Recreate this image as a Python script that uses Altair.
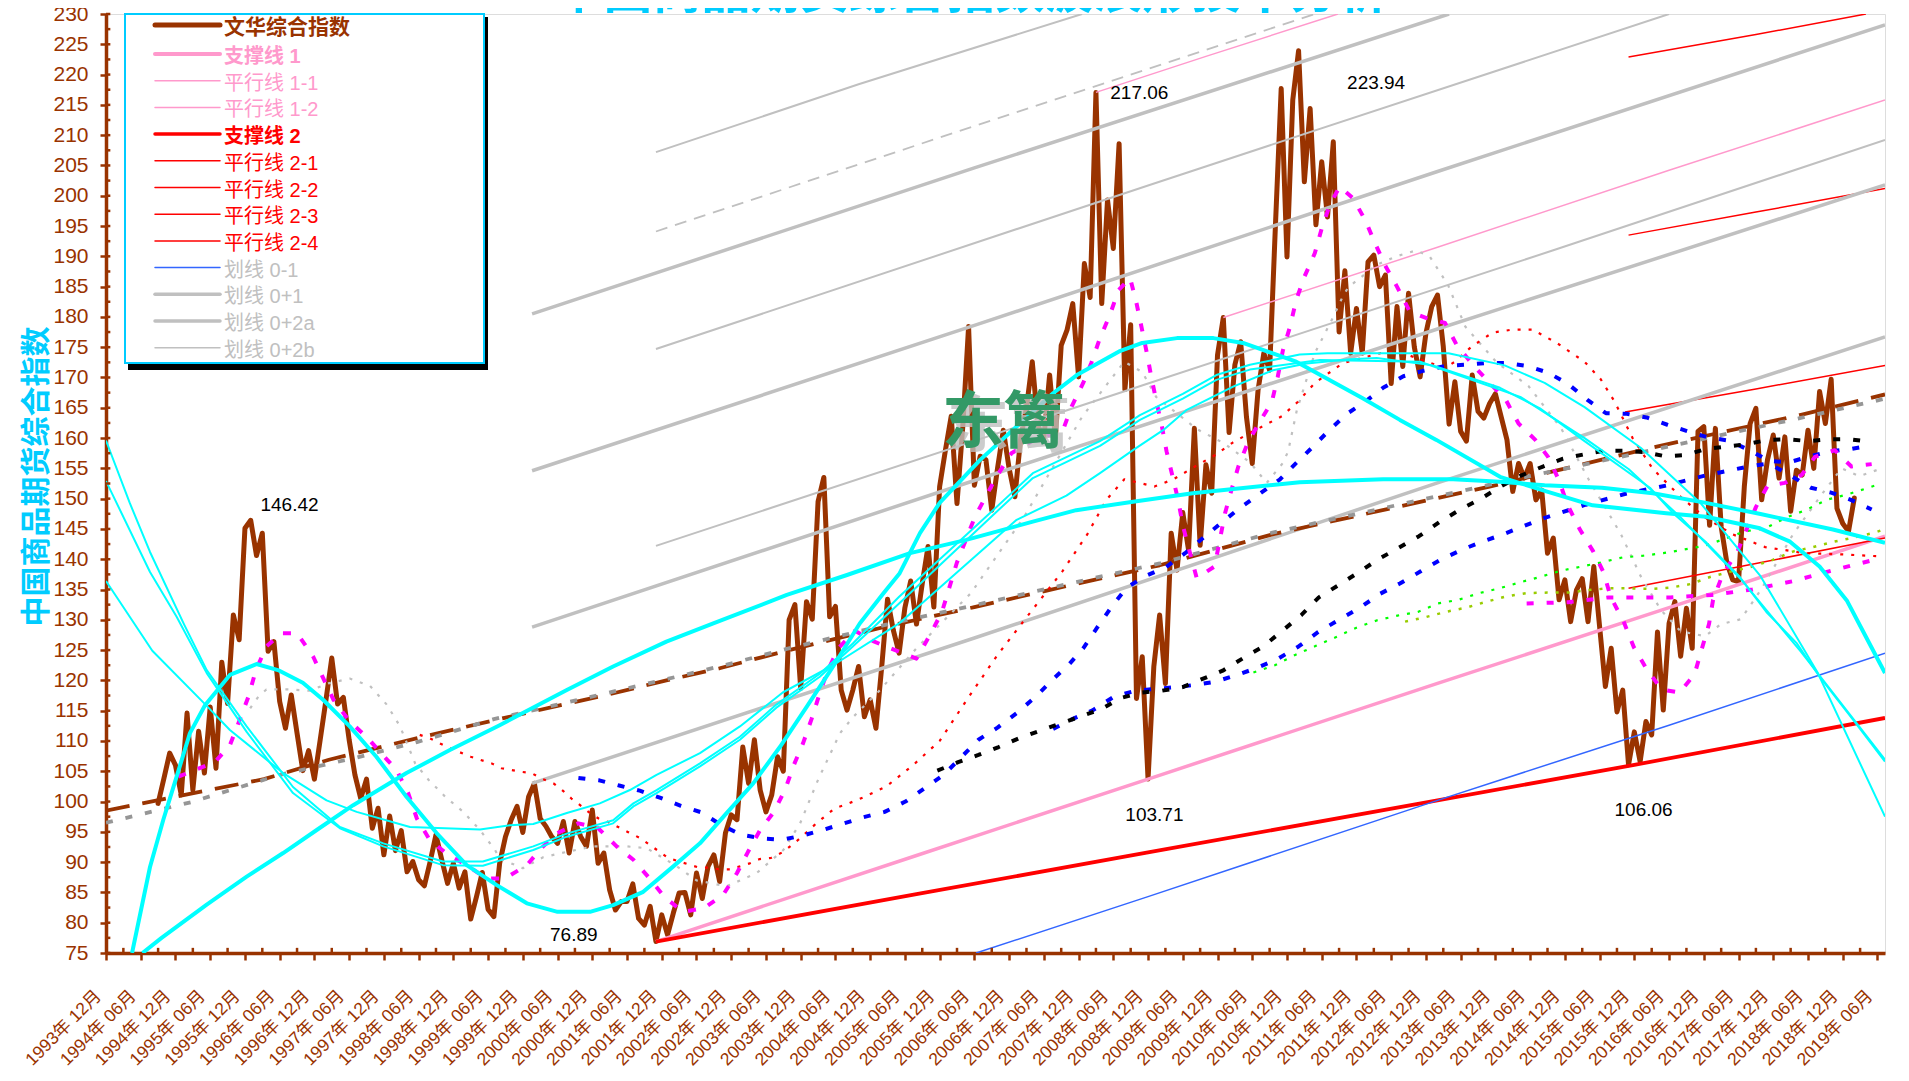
import json
import altair as alt
import pandas as pd

NARROW = "Liberation Sans Narrow, Liberation Sans, Noto Sans CJK SC"
CJK = "Noto Sans CJK SC"
BROWN = "#993300"

TITLE = "中国商品期货综合指数波浪形技术分析"
Y_TITLE = "中国商品期货综合指数"

TICK_LABELS = [
    "1993年 12月", "1994年 06月", "1994年 12月", "1995年 06月", "1995年 12月", "1996年 06月",
    "1996年 12月", "1997年 06月", "1997年 12月", "1998年 06月", "1998年 12月", "1999年 06月",
    "1999年 12月", "2000年 06月", "2000年 12月", "2001年 06月", "2001年 12月", "2002年 06月",
    "2002年 12月", "2003年 06月", "2003年 12月", "2004年 06月", "2004年 12月", "2005年 06月",
    "2005年 12月", "2006年 06月", "2006年 12月", "2007年 06月", "2007年 12月", "2008年 06月",
    "2008年 12月", "2009年 06月", "2009年 12月", "2010年 06月", "2010年 12月", "2011年 06月",
    "2011年 12月", "2012年 06月", "2012年 12月", "2013年 06月", "2013年 12月", "2014年 06月",
    "2014年 12月", "2015年 06月", "2015年 12月", "2016年 06月", "2016年 12月", "2017年 06月",
    "2017年 12月", "2018年 06月", "2018年 12月", "2019年 06月",
]
X_MAX = 307.3

# monthly index, first value is month 9 after 1993-12
MAIN_START = 9
MAIN = [
    99.7, 103.8, 108, 106, 101.1, 114.6, 101.9, 111.6, 104.7, 115.6, 105.5, 123, 116.2, 130.8, 126.7, 145.1,
    146.42, 140.6, 144.3, 124.8, 126.4, 116.5, 112.1, 117.6, 111.3, 105.1, 108.4, 103.7, 110.2, 116.8, 123.7,
    116.1, 117.2, 110.2, 104.4, 100.5, 103.7, 95.6, 98.9, 91.2, 97.6, 91.9, 95.2, 88.4, 90.1, 87.1, 86.1, 90.1,
    94.5, 90.4, 86.5, 89.8, 85.7, 88.4, 80.6, 84.3, 88.3, 82.2, 81, 89.8, 94.2, 97, 99.2, 94.9, 100.8, 103, 97.2,
    95.9, 94.2, 93.1, 96.7, 91.5, 96.7, 94.2, 92.6, 98.6, 89.8, 91.5, 85.4, 82.1, 83.5, 83.5, 86.4, 80.7, 79.6,
    82.7, 76.89, 81.3, 78, 81.6, 84.9, 85, 81.3, 88.2, 84, 89.3, 91.2, 86.8, 94.8, 97.8, 97, 109, 103, 110.2,
    101.9, 98.3, 101.1, 107.4, 105, 130, 132.5, 118.7, 133, 130.1, 149.5, 153.5, 130.5, 132.2, 118.4, 115.1,
    118.4, 122.3, 114, 116.8, 112.1, 122.3, 133.4, 128.3, 124.5, 132, 136.4, 129.3, 136, 142.1, 132.1, 152, 158,
    163.6, 149.2, 161.9, 178.4, 152.2, 157, 156.4, 148.1, 155, 161.3, 155, 150.3, 160, 165, 172.6, 162, 160,
    170.4, 160, 175.3, 177.8, 182.2, 170.1, 188.8, 183.2, 217.06, 182.2, 199.3, 191.3, 208.6, 168, 178.7, 117,
    123.9, 103.71, 122.3, 130.8, 119.5, 144.3, 138.2, 147.7, 141.5, 161.6, 142.3, 155.6, 150.9, 173.7, 179.9,
    160.9, 172.1, 175.9, 163.5, 155.8, 167.9, 174, 171.2, 195, 217.7, 189.9, 215.8, 223.94, 202.3, 214.4, 195.2,
    205.6, 196.5, 208.9, 177.5, 187.6, 174, 181.4, 174, 189.1, 190.2, 185, 186.9, 169, 181.7, 171.8, 183.9, 175,
    170.1, 177.3, 181.7, 183.6, 175.1, 162.3, 169.3, 161.1, 159.5, 170.4, 164.4, 163.3, 165.7, 167.3, 163.5,
    159.7, 151.2, 155.8, 153.4, 155.8, 149.8, 151.4, 141, 143.5, 133.3, 136.6, 129.7, 134.9, 136.8, 129.7, 138.8,
    128.9, 119, 125.3, 114.8, 118.4, 106.06, 111.5, 106.6, 113.2, 111, 128, 115.1, 129.4, 133, 124, 131.9, 125.3,
    161.1, 161.9, 145.6, 161.6, 145.4, 139.3, 136.6, 136.3, 152, 162.4, 164.9, 149.8, 156.4, 160.5, 153.4, 160.2,
    147.9, 154.7, 153.9, 161.3, 155, 167.7, 162.4, 169.7, 148.4, 145.9, 144.6, 150.1,
]

SUPPORT1 = [(95, 76.89), (140, 91.1), (180, 103.71), (230, 119.5), (270, 132), (307.3, 143.8)]
SUPPORT2 = [(95, 76.89), (140, 84.7), (180, 91.6), (230, 100.2), (264, 106.06), (307.3, 113.8)]
PAR11 = [(171, 217.06), (190, 223), (212.8, 230)]
PAR12 = [(193, 179.9), (230, 191.5), (270, 204.2), (307.3, 215.8)]
PAR21 = [(263, 222.9), (285, 226.6), (304, 230)]
PAR22 = [(263, 193.5), (285, 197.3), (307.3, 201.2)]
PAR23 = [(262.4, 164.3), (285, 168.1), (307.3, 172)]
PAR24 = [(263, 135.2), (285, 139.3), (307.3, 143.5)]
LINE01 = [(150.3, 75), (180, 84.3), (230, 100.2), (270, 112.6), (307.3, 124.5)]
GRAY_THICK_A = [(73.6, 180.5), (150, 204.6), (232, 230)]
GRAY_THICK_B = [(73.6, 154.6), (150, 178.6), (230, 204), (307.3, 228.2)]
GRAY_THICK_C = [(73.6, 128.8), (150, 153), (230, 178), (307.3, 201.8)]
GRAY_THICK_D = [(73.6, 103), (150, 127), (230, 152.6), (307.3, 176.7)]
GRAY_THIN_A = [(95, 207.2), (130, 218.4), (168.6, 230)]
GRAY_DASH = [(95, 194.1), (150, 211.5), (208.8, 230)]
GRAY_THIN_B = [(95, 174.7), (180, 201.7), (270, 230)]
GRAY_THIN_C = [(95, 142.2), (180, 169), (250, 191), (307.3, 209.2)]

TREND_BROWN = [(0, 98.5), (27.3, 103.7), (38.5, 106.9), (54.3, 110.6), (67, 113.4), (78, 115.8), (86.5, 117.6),
               (96.8, 120), (106, 122), (117.6, 124.9), (134.8, 128.9), (150, 132.1), (167, 135.8), (182, 139),
               (201.5, 144.1), (239, 152), (267, 158.4), (292.6, 163.8), (307.3, 167.2)]
TREND_GRAY = [(0, 96.5), (14.7, 99.9), (30, 104.4), (43, 107.2), (53.7, 109.8), (67, 113.6), (78, 116), (86.5, 117.9),
              (96.8, 120.2), (106, 122.3), (117.6, 125.2), (134.8, 129.2), (150, 132.4), (167, 136.1), (182, 139.3),
              (201.5, 144.4), (239, 152.3), (267, 158), (292.6, 163.3), (307.3, 166.5)]

MAG1 = [(12.5, 104.1), (18.8, 106.5), (21.4, 109.3), (23.1, 113.5), (24.6, 117.3), (25.9, 121.7), (27.7, 125.6),
        (30.3, 127.8), (33, 127.8), (35.8, 123.9), (37.5, 120.4), (39.3, 116.8), (42.1, 113.2), (45, 110.7),
        (47.3, 108.2), (50.2, 105.2), (52.2, 101.4), (53.7, 97.2), (55.9, 93.7), (59.1, 91.2), (62.3, 89.5),
        (65.7, 87.3), (68.9, 87.3), (72.7, 89.5), (75.2, 92.3), (78, 94.8), (81.6, 96.4), (85, 95.6), (88.2, 92.6),
        (91.1, 90.4), (94, 87.2), (96.5, 84.2), (99.7, 81.8), (103.3, 82.4), (106.6, 84.6), (109, 88.2),
        (110.9, 91.7), (113, 95.3), (115.4, 98.3), (117.4, 102.2), (118.8, 106), (120.4, 109.6), (121.9, 113.7),
        (123.2, 117.6), (124.6, 121.5), (126.5, 125.3), (129.4, 128.2), (132.2, 126.6), (135.5, 125.3),
        (140, 123.6), (142.4, 127.6), (144.4, 131.3), (147, 139.5), (150.1, 147), (153.8, 153.6), (156.4, 157.5),
        (160, 159.5), (165.3, 161.3), (166.8, 165.2), (168.8, 169.1), (170.2, 172.4), (171.7, 176.5), (173.4, 180.3),
        (174.9, 184.4), (176.9, 186.4), (178, 182.3), (178.9, 178.2), (179.8, 174), (180.6, 169.9), (181.5, 165.8),
        (182.4, 161.9), (183.2, 157.8), (184.3, 153.4), (185.2, 149.8), (186, 145.6), (187.2, 141.2), (188.4, 136.9),
        (191.5, 138.8), (192.4, 143.2), (193.3, 147.6), (194.4, 151.4), (195.6, 155.3), (197.3, 159.4), (199.5, 163),
        (201.4, 166), (202.4, 170.1), (203.3, 174.5), (204.5, 178.3), (205.6, 182.8), (207, 186.6), (208.8, 190.5),
        (210, 194.6), (211.4, 198.5), (213.1, 201.5), (215.4, 199.6), (217.5, 196), (219.2, 192.2), (220.9, 188.6),
        (223, 185), (225.2, 180.9), (228.1, 179.8), (231.3, 179), (233.3, 175.4), (236, 172.2), (239, 169.1),
        (241.8, 166.3), (244, 162.4), (246.9, 159.7), (249.1, 156.9), (250.9, 153.2), (252.5, 148.9), (254.6, 144.9),
        (256.9, 141.3), (258.7, 137.8), (259.9, 133.8), (262.2, 129.6), (263.9, 125.5), (266.1, 121.9), (268.7, 118.5),
        (271.8, 118), (274.4, 121), (275.6, 125), (276.9, 129.3), (277.6, 133.3), (279.3, 137.6), (281.7, 141),
        (285, 148.6), (287, 152.1), (290, 152.6), (292.9, 153.9), (295.2, 156.9), (298.6, 158), (301.5, 155.3),
        (305, 155.7)]
MAG2 = [(245.4, 132.7), (252.6, 132.9), (259.5, 133.7), (270.2, 133.7), (277.4, 134.1), (284.4, 135), (291.5, 136.4),
        (298.4, 138.2), (305.4, 139.9)]

GRAY_DOT = [(24.9, 115.4), (26.3, 117.3), (27.7, 118.5), (31.5, 118.5), (35.2, 118.3), (38.4, 119.5), (42.1, 120.3),
            (45.6, 119.1), (48.5, 116), (50.8, 112.4), (53.4, 106.3), (55.7, 103.6), (58.6, 100.8), (61.7, 98.3),
            (64.6, 95.3), (67.2, 92), (68, 90.6), (72, 89), (75.5, 90.8), (79.6, 91.7), (84.2, 92.6), (89.9, 92.6),
            (93.4, 92.3), (98.3, 89.5), (102, 87), (107.2, 86), (112.4, 88.2), (117, 92), (119.9, 96.4), (123, 103.6),
            (126.8, 111.3), (129.1, 114), (133.7, 118.4), (140, 125.3), (149.4, 134.4), (158.6, 147), (168.6, 163.5),
            (175.9, 172.6), (179, 170.9), (181.4, 166.8), (188.4, 161.5), (193, 159.2), (197.6, 156), (200.5, 152.6),
            (203.3, 155.9), (204.2, 157.8), (205.7, 164.6), (206.8, 167.9), (208.8, 174), (212, 180), (213.6, 183.3),
            (214.6, 184.9), (219.5, 188.6), (222.9, 190), (226.4, 191), (228.7, 189.9), (231.8, 185.3), (234.8, 178.4),
            (240.2, 172.5), (245.7, 168.6), (251.3, 161.7), (256.1, 153.2), (261.7, 144.1), (265.1, 137.2),
            (268.6, 131.6), (272, 128.1), (276.2, 127.3), (279, 129.3), (282.4, 130.1), (285.9, 135), (291.4, 144.1),
            (296.6, 151), (299.8, 155), (302.9, 153.7), (306.7, 155)]

RED_DOT = [(54.2, 111), (56, 110.4), (57.7, 109.6), (59.4, 108.8), (63, 107.4), (66.6, 106.3), (68.3, 105.5),
           (71.8, 104.9), (73.5, 104.7), (75.2, 103.8), (77.3, 103), (78.9, 101.8), (80.4, 100.5), (81.9, 99.4),
           (83.6, 98.1), (85.1, 97.2), (86.8, 96.6), (90.3, 94.9), (92.2, 94), (94, 92.8), (97.1, 90.7), (99, 90.1),
           (102.4, 89.1), (104.2, 89.1), (106, 88.8), (107.8, 88.8), (111.2, 89.8), (112.9, 90.5), (114.9, 90.7),
           (117, 91.7), (119.6, 93.7), (122.7, 96.4), (125.9, 98.9), (127.8, 99.5), (131.1, 100.8), (134.8, 102.5),
           (139.4, 106), (144, 110), (148.7, 116.8), (154, 124.2), (158.6, 129.9), (165.2, 138), (169.5, 144.1),
           (172.8, 149.8), (175.9, 153.2), (181.1, 152), (184.4, 153.2), (188.1, 155.3), (191.6, 157.2), (194.7, 159.3),
           (198.1, 161.1), (203.1, 163.6), (205.9, 166), (208.8, 169.1), (213.7, 172.4), (215.7, 172.9), (220.9, 174.2),
           (224.4, 173.9), (228.1, 172.6), (231.3, 171.6), (233, 172.6), (235.9, 175.1), (239.5, 177.4), (242.9, 177.9),
           (246.4, 177.9), (250.6, 175.7), (255.4, 172.6), (258.2, 169.7), (260.6, 166), (263.7, 160), (267.2, 154.9),
           (272, 150.3), (276.2, 146.9), (281, 144.1), (286.6, 142), (293.5, 141), (299.8, 140.8), (306, 140.5)]

BLUE1 = [(81.6, 103.9), (85.2, 103.5), (88.8, 102.6), (92.2, 101.8), (95.8, 100.6), (99.3, 99.3), (102.9, 98.2),
         (106.3, 96.1), (109.8, 94.5), (113.5, 93.9), (116.8, 93.7), (120.4, 94.4), (123.8, 95.3), (127.5, 96.4),
         (130.8, 97.4), (134.5, 98.3), (138.1, 100), (141.4, 102.2), (144.8, 104.5), (147.7, 107.3), (150.7, 110.2),
         (154, 112.2), (157.3, 114.6), (160.6, 117.3), (163.6, 120.2), (166.4, 122.7), (168.8, 125.3), (171.2, 128.7),
         (173.8, 132.3), (176.3, 135.3), (179.5, 137.2), (183.1, 138.7), (186.4, 141), (189.5, 143.5), (192.4, 145.8),
         (195.5, 148.2), (199, 150.6), (202.8, 153.2), (205.4, 155.7), (208.3, 158.4), (211.1, 161.1), (214.2, 163.9),
         (217.5, 166), (220.6, 168.3), (224.1, 170.2), (227.5, 171.1), (231.3, 171.9), (234.7, 172.1), (238.4, 172.4),
         (241.9, 172.4), (245.5, 171.9), (249.1, 170.8), (252.6, 168.9), (255.9, 166.3), (259.1, 164.1), (262.7, 164),
         (266.1, 163.4), (269.7, 162.2), (273.3, 161.1), (276.8, 160.1), (280.2, 159.6), (283.9, 158), (287.3, 156.2),
         (290.8, 156), (294.3, 157), (297.8, 157.8), (301.4, 158.2), (304.8, 158.8)]
BLUE2 = [(163.6, 112), (166.9, 113.6), (170.5, 115.1), (174.1, 117.3), (177.8, 118.3), (181.3, 118.6), (184.9, 118.9),
         (188.5, 119.3), (191.7, 119.8), (195.4, 120.9), (198.9, 122.1), (202.5, 123.6), (206, 125.6), (209.4, 128),
         (213, 130), (216.6, 132), (220.1, 134.3), (223.5, 136), (227.1, 138), (230.7, 140), (234.3, 141.6),
         (237.7, 142.9), (241.3, 144.1), (248.4, 146.8), (255.6, 149), (262.5, 150.8), (269.7, 152.2), (276.6, 153.9),
         (283.7, 155.3), (287.3, 155.8), (291, 153.8), (294.5, 151.8), (298, 151), (301.4, 149.8), (305, 148.2)]
BLACK = [(143.6, 105.1), (147.2, 106.5), (150.7, 107.7), (154.2, 109), (157.6, 110.4), (161.1, 111.6), (164.6, 112.8),
         (168.2, 114), (171.8, 115.2), (175.3, 117.1), (178.9, 118), (182.4, 118.3), (186, 118.9), (189.3, 120.2),
         (192.9, 121.6), (196.3, 123.6), (199.9, 125.6), (206.5, 130.8), (209.5, 133.7), (212.7, 135.6), (216.3, 137.8),
         (219.8, 140), (223.3, 141.9), (226.8, 143.8), (230.3, 146.1), (233.9, 148.2), (237.5, 150), (240.9, 152),
         (244.4, 153.8), (248.2, 155.3), (251.7, 156.6), (255.3, 157.3), (258.8, 157.9), (262.3, 157.9), (265.7, 157.7),
         (269.3, 157), (272.8, 157.2), (276.4, 158.2), (279.9, 158.6), (283.5, 159), (287, 159.7), (290.5, 159.8),
         (294.1, 159.5), (297.5, 159.8), (301.2, 159.8), (304.7, 159.4)]
GREEN = [(198.2, 121.3), (201.9, 122.5), (205.4, 124.2), (209, 125.7), (212.6, 127.2), (216, 128.7), (219.5, 129.9),
         (223.1, 130.7), (226.6, 131.3), (230.1, 132.7), (233.6, 133.3), (237.2, 134.4), (240.7, 135.2), (244.3, 136.2),
         (247.8, 137.1), (251.3, 138.1), (254.9, 138.8), (258.4, 139.5), (262, 140.3), (265.6, 140.6), (269, 141),
         (272.6, 141.6), (276.1, 142.2), (279.7, 143.4), (283.1, 144.6), (286.6, 145.1), (290.3, 146.9), (293.6, 148.1),
         (297.2, 149.8), (300.8, 150.7), (304.1, 151.7), (306, 152.3)]
OLIVE = [(224.4, 129.7), (227.8, 130.4), (231.4, 131.3), (234.9, 132), (238.5, 133), (242, 133.9), (245.4, 134.4),
         (249, 134.5), (252.6, 134.5), (256, 134.9), (259.6, 135.2), (263.1, 135.2), (266.7, 135.1), (270.2, 135.3),
         (273.7, 135.9), (277.2, 137.1), (280.8, 138), (284.4, 138.8), (287.9, 139.9), (291.5, 141.3), (294.9, 142),
         (298.5, 142.9), (302, 143.6), (305.6, 144.4), (307.3, 145)]

CYAN_BOLD1 = [(4.5, 75), (7.6, 89.2), (9.9, 97), (12.2, 104.1), (14.5, 111.3), (17.1, 115.9), (21.4, 120.9), (26, 122.7),
              (29.7, 121.7), (34, 119.6), (37.5, 116.8), (42.1, 112.4), (46.7, 107.4), (51.9, 100.8), (57.1, 94.8),
              (62.3, 89.5), (67.5, 86.2), (72.7, 83.2), (78, 81.8), (83.6, 81.8), (87.6, 82.9), (92.8, 85.1), (98, 89.3),
              (102.6, 93.1), (107.2, 98.1), (111.8, 103), (116.4, 109), (121, 115.6), (125.6, 122.3), (130.2, 129.4),
              (134.3, 134.4), (137.1, 137.7), (140.6, 144.3), (144, 149.3), (151, 156.4), (157.3, 161.9), (163.6, 167.4),
              (167.7, 170.4), (175, 174.3), (179, 175.7), (185, 176.5), (191.3, 176.5), (196.4, 175.7), (205.6, 172.6),
              (217, 166.6), (223.5, 163), (229.8, 159.7), (240.8, 153.6), (248.8, 151.2), (256.8, 148.9), (269.5, 147.6),
              (276.4, 147), (285.7, 145.1), (290.9, 142.9), (296, 138.8), (300.7, 133.2), (304, 127.2), (307.3, 121.2)]
CYAN_BOLD2 = [(6.3, 75), (9.6, 77.5), (17.4, 83), (24.3, 87.6), (30.6, 91.5), (36.4, 95.3), (42.7, 99.4), (51.9, 104.7),
              (59.4, 108.5), (68, 112.6), (79.6, 118.4), (87.6, 122.3), (96.8, 126.4), (104.9, 129.4), (117.6, 134.1),
              (128, 137.4), (138.9, 141), (148.6, 143.2), (160.1, 146.2), (167.6, 148.1), (177.4, 149.5), (187.7, 150.9),
              (206.2, 152.7), (220.6, 153.2), (232.7, 153.2), (240.8, 152.8), (248.5, 152.2), (258.4, 151.8),
              (267.2, 150.9), (276.4, 149.3), (285.6, 147.5), (298.3, 144.9), (307.3, 142.7)]
CYAN_A = [(0, 159.6), (4.1, 149.3), (7.6, 141.2), (13.4, 129.4), (17.4, 121.7), (24.3, 112.4), (32.3, 102.4), (40.4, 95.8),
          (47.9, 93.1), (58.2, 90.1), (65.1, 90.1), (73.8, 92.6), (79.6, 94.7), (87.6, 96.9), (91.1, 99.7), (95.1, 101.9),
          (102.6, 106.3), (109.5, 110.7), (115.8, 116), (123.3, 121.1), (129, 126.1), (137, 133.8), (152, 147),
          (160.1, 154.2), (171.7, 159.5), (178.6, 163.8), (186, 167.3), (191.8, 170.4), (197.6, 172.1), (206.2, 173.8),
          (211, 174), (231.9, 174), (241.6, 172), (248.5, 169.1), (255.4, 165.1), (265.1, 158.4), (275.5, 149.2),
          (285.8, 137.2), (295.6, 121.4), (307.3, 97.5)]
CYAN_B = [(0, 152.9), (7.6, 137.9), (12.2, 130.5), (17.4, 121.2), (24.3, 111.5), (32.3, 101.4), (40.4, 95.6), (47.9, 92.6),
          (58.2, 89.5), (65.1, 89.4), (73.8, 92), (79.6, 94.2), (87.6, 96.4), (91.1, 99.2), (95.1, 101.4), (102.6, 105.8),
          (109.5, 110.2), (115.8, 115.5), (123.3, 120.6), (129, 125.6), (137, 132.7), (152, 146.2), (160.1, 153.4),
          (171.7, 158.7), (178.6, 163), (186, 166.5), (191.8, 169.6), (197.6, 171.3), (209.7, 172.9), (227, 172.6),
          (244.3, 166.8), (255.4, 160), (263, 154.9), (272, 146.9), (282.4, 136.7), (292.8, 124.7), (307.3, 106.9)]
CYAN_C = [(0, 136.4), (8, 124.9), (17.4, 115.8), (21.4, 111.8), (30.6, 104.7), (38.1, 100.2), (43.3, 98.3), (52.5, 95.8),
          (64.6, 95.4), (69.8, 96.1), (73.8, 96.3), (79.6, 98.1), (85.3, 99.7), (90.5, 101.9), (95.1, 104.4), (102.6, 108),
          (109.5, 112.4), (116.9, 118), (125.6, 122.5), (137, 129.4), (146, 137), (157.3, 146.5), (165.9, 150.5),
          (171.7, 154.2), (177.4, 158), (182.6, 161.3), (186.6, 164.6), (194.7, 168.5), (201.6, 171.2), (207.4, 172.3),
          (214.9, 173), (219.5, 173.2), (229.2, 172), (240.8, 168.3), (247.7, 164.9), (255.1, 159.7), (266.7, 151.8),
          (270.7, 147.6), (276.5, 142.7), (282.2, 137.1), (286.8, 131.3), (292, 126.2), (296, 120.6), (301.8, 113.5),
          (307.3, 106.6)]

PEAK_LABELS = [("146.42", 31.7, 149), ("76.89", 80.8, 78), ("217.06", 178.5, 217), ("223.94", 219.4, 218.6),
               ("103.71", 181.1, 97.7), ("106.06", 265.6, 98.6)]

Y_TICKS = list(range(75, 231, 5))
Y_MINOR = [75 + 2.5 * i for i in range(1, 62, 2)]
X_MINOR = [3 + 6 * i for i in range(51)]

LEGEND_ROWS = [
    ("文华综合指数", BROWN, 5, True), ("支撑线 1", "#FF99CC", 4, True), ("平行线 1-1", "#FF99CC", 1.5, False),
    ("平行线 1-2", "#FF99CC", 1.5, False), ("支撑线 2", "#FF0000", 3.5, True), ("平行线 2-1", "#FF0000", 1.5, False),
    ("平行线 2-2", "#FF0000", 1.5, False), ("平行线 2-3", "#FF0000", 1.5, False), ("平行线 2-4", "#FF0000", 1.5, False),
    ("划线 0-1", "#3366FF", 1.5, False), ("划线 0+1", "#C0C0C0", 3.5, False), ("划线 0+2a", "#C0C0C0", 3.5, False),
    ("划线 0+2b", "#C0C0C0", 1.5, False),
]
LEGEND_TEXT = ["#993300", "#FF99CC", "#FF99CC", "#FF99CC", "#FF0000", "#FF0000", "#FF0000", "#FF0000", "#FF0000",
               "#C0C0C0", "#C0C0C0", "#C0C0C0", "#C0C0C0"]

xs = alt.Scale(domain=[0, X_MAX], nice=False, zero=False)
ys = alt.Scale(domain=[75, 230], nice=False, zero=False)

X_AXIS = alt.Axis(
    values=list(range(0, 307, 6)),
    labelExpr=json.dumps(TICK_LABELS, ensure_ascii=False) + "[round(datum.value/6)]",
    labelAngle=-45, labelAlign="right", labelBaseline="middle", labelFont=NARROW, labelFontSize=17.5,
    labelColor=BROWN, labelPadding=33, labelOffset=-8, labelOverlap=False, labelBound=False, labelFlush=False,
    domainColor=BROWN, domainWidth=3.5, tickColor=BROWN, tickWidth=2.5, tickSize=7, grid=False, title=None)
Y_AXIS = alt.Axis(
    values=Y_TICKS, format="d", labelFont=NARROW, labelFontSize=21, labelColor=BROWN, labelPadding=12,
    labelOverlap=False, labelBound=False, labelFlush=False,
    domainColor=BROWN, domainWidth=3.5, tickColor=BROWN, tickWidth=2.5, tickSize=6, grid=False,
    title=Y_TITLE, titleColor="#00CCFF", titleFont=CJK, titleFontSize=30, titleFontWeight="bold",
    titleX=-70, titleY=462, titleAngle=270, titleAlign="center", titleBaseline="middle")

X = alt.X("m:Q", scale=xs, axis=X_AXIS)
Y = alt.Y("v:Q", scale=ys, axis=Y_AXIS)


def frame(pairs):
    return pd.DataFrame(pairs, columns=["m", "v"])


def line(pairs, color, width, dash=None, cap="butt"):
    kw = dict(color=color, strokeWidth=width, strokeCap=cap, strokeJoin="round", clip=True)
    if dash:
        kw["strokeDash"] = dash
    return alt.Chart(frame(pairs)).mark_line(**kw).encode(x=X, y=Y)


one = pd.DataFrame({"a": [0]})

y_small = alt.Chart(pd.DataFrame({"v": Y_TICKS + Y_MINOR})).mark_rule(color=BROWN, strokeWidth=2.5).encode(
    y=Y, x=alt.X(datum=0, scale=xs, axis=X_AXIS), x2=alt.X2(datum=0.75))
x_small = alt.Chart(pd.DataFrame({"m": X_MINOR})).mark_rule(color=BROWN, strokeWidth=2.5).encode(
    x=X, y=alt.Y(datum=75, scale=ys, axis=Y_AXIS), y2=alt.Y2(datum=75.85))

series = [
    line([(MAIN_START + i, v) for i, v in enumerate(MAIN)], BROWN, 5, cap="round"),
    line(SUPPORT1, "#FF99CC", 3.5),
    line(PAR11, "#FF99CC", 1.5),
    line(PAR12, "#FF99CC", 1.5),
    line(SUPPORT2, "#FF0000", 3.8),
    line(PAR21, "#FF0000", 1.5),
    line(PAR22, "#FF0000", 1.5),
    line(PAR23, "#FF0000", 1.5),
    line(PAR24, "#FF0000", 1.5),
    line(LINE01, "#3366FF", 1.5),
    line(GRAY_THICK_A, "#C0C0C0", 3.5),
    line(GRAY_THICK_B, "#C0C0C0", 3.5),
    line(GRAY_THICK_C, "#C0C0C0", 3.5),
    line(GRAY_THICK_D, "#C0C0C0", 3.5),
    line(GRAY_THIN_A, "#C0C0C0", 2),
    line(GRAY_DASH, "#C0C0C0", 1.8, [12, 8]),
    line(GRAY_THIN_B, "#C0C0C0", 2),
    line(GRAY_THIN_C, "#C0C0C0", 2),
    line(TREND_BROWN, BROWN, 3.8, [24, 13]),
    line(TREND_GRAY, "#969696", 3.8, [7, 13]),
    line(GRAY_DOT, "#C0C0C0", 2.2, [3, 8]),
    line(RED_DOT, "#FF0000", 2.2, [3, 8]),
    line(BLUE1, "#0000FF", 4, [7, 13]),
    line(BLUE2, "#0000FF", 4, [7, 13]),
    line(BLACK, "#000000", 4, [7, 13]),
    line(GREEN, "#00FF00", 2.2, [3, 8]),
    line(OLIVE, "#99CC00", 2.5, [3, 8]),
    line(MAG1, "#FF00FF", 4, [8, 13]),
    line(MAG2, "#FF00FF", 4, [7, 13]),
    line(CYAN_A, "#00FFFF", 2),
    line(CYAN_B, "#00FFFF", 2),
    line(CYAN_C, "#00FFFF", 2),
    line(CYAN_BOLD2, "#00FFFF", 4),
    line(CYAN_BOLD1, "#00FFFF", 4),
]

labels = alt.Chart(pd.DataFrame(PEAK_LABELS, columns=["t", "m", "v"])).mark_text(
    font=NARROW, fontSize=19, color="#000000", align="center", baseline="middle").encode(x=X, y=Y, text="t:N")

title_mark = alt.Chart(one).mark_text(
    font=CJK, fontSize=49, fontWeight="bold", color="#00CCFF", align="center", baseline="alphabetic").encode(
    x=alt.value(865), y=alt.value(-6), text=alt.value(TITLE))


def wm(ch, x, y, color, opacity=1.0):
    return alt.Chart(one).mark_text(
        font=CJK, fontSize=62, fontWeight="bold", color=color, opacity=opacity, align="center",
        baseline="middle").encode(x=alt.value(x), y=alt.value(y), text=alt.value(ch))


watermark = [wm("东", 872, 414, "#C0C0C0", 0.8), wm("篱", 933, 414, "#C0C0C0", 0.8),
             wm("东", 867, 410, "#339966"), wm("篱", 928, 410, "#339966")]

legend = [
    alt.Chart(one).mark_rect(color="#000000").encode(
        x=alt.value(22), x2=alt.value(382), y=alt.value(3), y2=alt.value(356)),
    alt.Chart(one).mark_rect(fill="#FFFFFF", stroke="#00CCFF", strokeWidth=2).encode(
        x=alt.value(19), x2=alt.value(378), y=alt.value(0), y2=alt.value(349)),
]
for i, (name, col, w, bold) in enumerate(LEGEND_ROWS):
    yy = 11 if i == 0 else 40 + (i - 1) * 26.7
    legend.append(alt.Chart(one).mark_rule(color=col, strokeWidth=w, strokeCap="round").encode(
        x=alt.value(49), x2=alt.value(114), y=alt.value(yy)))
    legend.append(alt.Chart(one).mark_text(
        font=NARROW, fontSize=21 if i == 0 else 20, fontWeight="bold" if bold else "normal", color=LEGEND_TEXT[i],
        align="left", baseline="middle").encode(x=alt.value(118), y=alt.value(yy + 3), text=alt.value(name)))

chart = alt.layer(*series, y_small, x_small, labels, *watermark, *legend, title_mark).properties(
    width=1779, height=939,
    autosize=alt.AutoSizeParams(type="none"),
    padding={"left": 98, "top": 6, "right": 10, "bottom": 115},
).configure_view(stroke=None).configure(background="#FFFFFF")

chart.save("out.html", embed_options={"renderer": "svg", "actions": False})
